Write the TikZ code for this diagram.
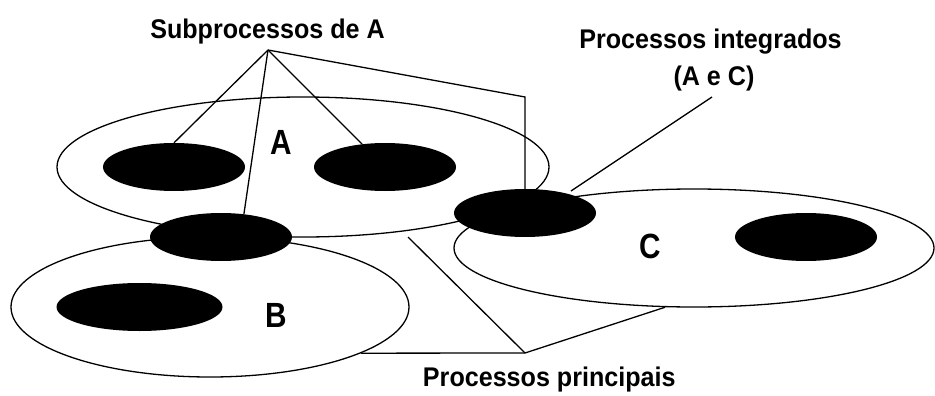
\documentclass[tikz,border=0pt]{standalone}
\usepackage{fontspec}
\setmainfont{Liberation Sans}[FakeStretch=0.93]
\newfontfamily\letterfont{Liberation Sans}[FakeStretch=0.85]
\usetikzlibrary{shapes.geometric}

\begin{document}
\begin{tikzpicture}[x=1pt, y=-1pt,
  region/.style={ellipse, draw, line width=1.3pt, inner sep=0pt},
  blob/.style={ellipse, fill=black, inner sep=0pt, minimum width=142pt, minimum height=48pt},
  caption/.style={font=\bfseries\fontsize{27}{30}\selectfont, inner sep=0pt},
  letter/.style={font=\letterfont\bfseries\fontsize{35}{35}\selectfont, inner sep=0pt},
  link/.style={line width=1.3pt}]
  \useasboundingbox (0,0) rectangle (935,396);

  % process areas
  \node[region, minimum width=492pt, minimum height=140pt] (ellA) at (303,167) {};
  \node[region, minimum width=398pt, minimum height=140pt] (ellB) at (210,307) {};
  \node[region, minimum width=480pt, minimum height=118pt] (ellC) at (694,248) {};

  % subprocesses
  \node[blob] (subA1) at (174,167) {};
  \node[blob] (subA2) at (385,167) {};
  \node[blob] (shAB)  at (221,237) {};
  \node[blob] (shAC)  at (525,213) {};
  \node[blob, minimum width=166pt] (subB) at (139.5,307) {};
  \node[blob] (subC)  at (806,237) {};

  % area letters
  \node[letter, anchor=base] (lblA) at (281,154.3) {A};
  \node[letter, anchor=base] (lblB) at (276,327) {B};
  \node[letter, anchor=base] (lblC) at (650,258) {C};

  % captions
  \node[caption, anchor=base] (capSub) at (267.5,38.3) {Subprocessos de A};
  \node[caption, anchor=base] (capInt) at (710.5,49) {Processos integrados};
  \node[caption, anchor=base] (capAC)  at (714,85) {(A e C)};
  \node[caption, anchor=base] (capMain) at (549.3,386.7) {Processos principais};

  % pointer junctions
  \coordinate (apexSub) at (268,50);
  \coordinate (kneeSub) at (525,97);
  \coordinate (intTop) at (712,97);
  \coordinate (intEnd) at (571,191);
  \coordinate (apexMain) at (525,353);
  \coordinate (mainTop) at (408,237);

  % pointers to the subprocesses of A
  \draw[link] (apexSub) -- (subA1.north);
  \draw[link] (apexSub) -- (subA2.135);
  \draw[link] (apexSub) -- (shAB.45);
  \draw[link] (apexSub) -- (kneeSub) -- (shAC.north);

  % pointer to the integrated process
  \draw[link] (intTop) -- (intEnd);

  % pointers to the main processes
  \draw[link] (mainTop) -- (apexMain);
  \draw[link] (ellB.-17.6) -- (apexMain) -- (ellC.244);
\end{tikzpicture}
\end{document}
